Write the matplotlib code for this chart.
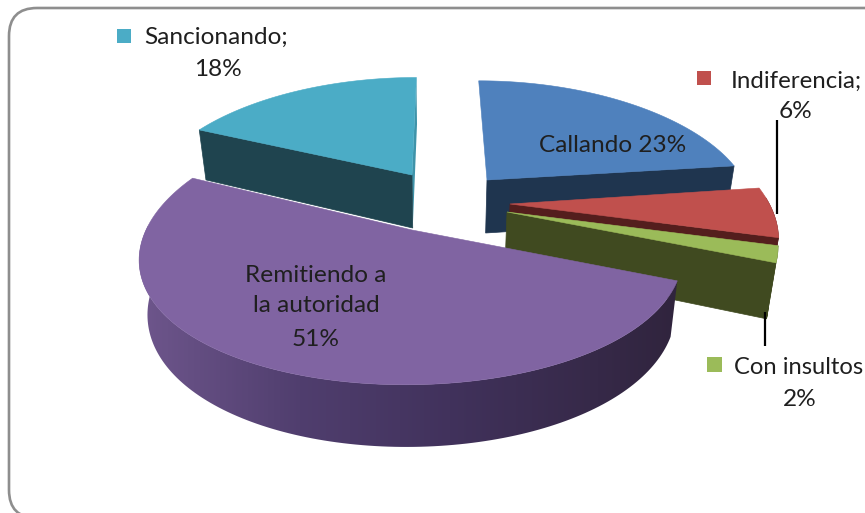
#!/usr/bin/env python3
"""Exploded 3D pie drawn by hand, matplotlib has no perspective pie of its own."""
import numpy as np
import matplotlib
matplotlib.use("Agg")
import matplotlib.pyplot as plt
from matplotlib.patches import FancyBboxPatch, Polygon, Rectangle

categories = ["Callando", "Indiferencia", "Con insultos", "Remitiendo a la autoridad", "Sancionando"]
values = [23, 6, 2, 51, 18]

top_colors = ["#4f81bd", "#c0504d", "#9bbb59", "#8064a2", "#4bacc6"]
wall_colors = ["#1f354f", "#541e1d", "#404a20", "#33263f", "#1f444f"]

# per slice layout: exploded apex (pixels) and radius scale
apex_x = [487, 510, 507, 412, 412]
apex_y = [180, 204, 212, 230, 175]
scale_x = [0.965, 0.975, 0.985, 1.0, 0.97]
scale_y = [0.885, 1.0, 1.0, 1.0, 0.87]
draw_order = [0, 4, 1, 2, 3]

RX, RY = 266, 130
KX, KY = 0.204, 0.16   # perspective strength
VANISH_X = 438
DEPTH = 53
BOTTOM_SHRINK = 0.972
FONT = "Lato"
FS = 17.6
INK = "#1f1f1f"


def project(i, t):
    """top and bottom outline of slice i at clock angles t (radians)."""
    u, v = np.sin(t), np.cos(t)
    px = 1 / (1 + KX * v)
    py = 1 / (1 + KY * v)
    x = VANISH_X + (apex_x[i] - VANISH_X + RX * scale_x[i] * u) * px
    y = apex_y[i] - RY * scale_y[i] * v * py
    xb = VANISH_X + (x - VANISH_X) * BOTTOM_SHRINK
    yb = y + DEPTH * px ** 0.7
    return x, y, xb, yb


fig = plt.figure(figsize=(8.65, 5.13), dpi=100)
ax = fig.add_axes([0, 0, 1, 1])
ax.axis("off")

ax.add_patch(FancyBboxPatch((9, 8), 950, 510, boxstyle="round,pad=0,rounding_size=28",
                            fc="white", ec="#8e8e8e", lw=1.9, zorder=0))

edges = np.radians(np.cumsum([0] + values) * 3.6)
# purple wall fades from left to right
shade_x = [140, 300, 450, 680]
shade_rgb = np.array([[0x6e, 0x56, 0x8c], [0x50, 0x3e, 0x6e], [0x41, 0x32, 0x5c], [0x30, 0x24, 0x3d]]) / 255

for i in draw_order:
    t = np.linspace(edges[i], edges[i + 1], 160)
    x, y, xb, yb = project(i, t)
    apex = (apex_x[i], apex_y[i])
    apex_b = (VANISH_X + (apex_x[i] - VANISH_X) * BOTTOM_SHRINK, apex_y[i] + DEPTH)

    # cut faces that can be seen from the front
    if i in (0, 1, 2):
        ax.add_patch(Polygon([apex, (x[-1], y[-1]), (xb[-1], yb[-1]), apex_b],
                             fc=wall_colors[i], ec=wall_colors[i], lw=0.5))
    if i == 4:
        ax.add_patch(Polygon([apex, (x[-1], y[-1]), (xb[-1], yb[-1]), apex_b],
                             fc="#3f93a9", ec="none"))
        ax.add_patch(Polygon([apex, (x[0], y[0]), (xb[0], yb[0]), apex_b],
                             fc=wall_colors[i], ec=wall_colors[i], lw=0.5))

    # curved outer wall
    front = np.cos(t) < 0.05
    if front.any():
        outline = np.vstack([np.column_stack([x[front], y[front]]),
                             np.column_stack([xb[front], yb[front]])[::-1]])
        if i == 3:
            wall = Polygon(outline, fc="none", ec="none")
            ax.add_patch(wall)
            xs = np.linspace(130, 690, 280)
            grad = np.stack([np.interp(xs, shade_x, shade_rgb[:, k]) for k in range(3)], axis=-1)
            im = ax.imshow(grad[np.newaxis, :, :], extent=(130, 690, 460, 170), aspect="auto", zorder=1)
            im.set_clip_path(wall)
        else:
            ax.add_patch(Polygon(outline, fc=wall_colors[i], ec=wall_colors[i], lw=0.4))

    ax.add_patch(Polygon(np.vstack([[apex], np.column_stack([x, y])]),
                         fc=top_colors[i], ec=top_colors[i], lw=0.4))

# leader lines
ax.plot([776.5, 776.5], [120, 214], color="black", lw=1.6, solid_capstyle="butt", zorder=4)
ax.plot([765, 765], [312, 346], color="black", lw=1.6, solid_capstyle="butt", zorder=4)

# legend keys that sit in front of the outside labels
ax.add_patch(Rectangle((117, 29), 14, 14, fc=top_colors[4], ec="none"))
ax.add_patch(Rectangle((697, 71), 14, 14, fc=top_colors[1], ec="none"))
ax.add_patch(Rectangle((707, 357), 15, 15, fc=top_colors[2], ec="none"))

txt = dict(fontfamily=FONT, color=INK, va="center", zorder=5)
ax.text(144, 37, f"{categories[4]};", ha="left", fontsize=FS, **txt)
ax.text(218, 69, f"{values[4]}%", ha="center", fontsize=FS, **txt)
ax.text(731, 81, f"{categories[1]};", ha="left", fontsize=FS - 0.3, **txt)
ax.text(796, 112, f"{values[1]}%", ha="center", fontsize=FS, **txt)
ax.text(734, 367, categories[2], ha="left", fontsize=FS - 0.5, **txt)
ax.text(800, 399, f"{values[2]}%", ha="center", fontsize=FS, **txt)
ax.text(613, 146, f"{categories[0]} {values[0]}%", ha="center", fontsize=FS, **txt)
ax.text(316, 275, "Remitiendo a", ha="center", fontsize=FS, **txt)
ax.text(316, 306, "la autoridad", ha="center", fontsize=FS, **txt)
ax.text(316, 339, f"{values[3]}%", ha="center", fontsize=FS, **txt)

ax.set_xlim(0, 865)
ax.set_ylim(513, 0)

fig.savefig("out.png", dpi=100)
